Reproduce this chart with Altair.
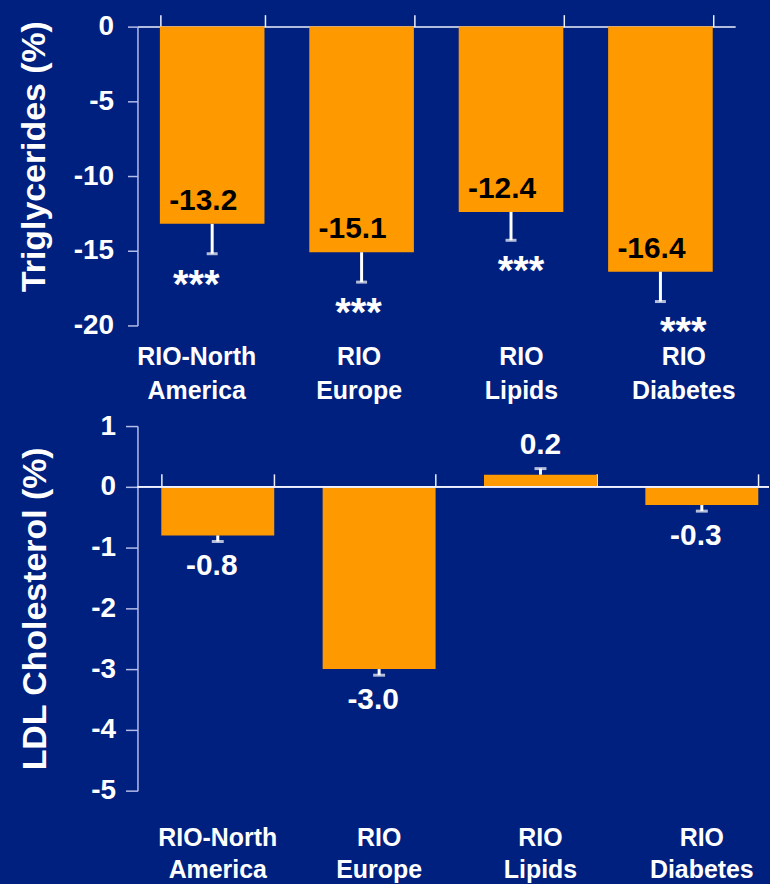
import altair as alt
import pandas as pd

# ---------------- data ----------------
categories = ["RIO-North America", "RIO Europe", "RIO Lipids", "RIO Diabetes"]
tg_change = [-13.2, -15.1, -12.4, -16.4]
tg_error = [2.0, 2.0, 1.9, 2.0]
tg_signif = ["***", "***", "***", "***"]
ldl_change = [-0.8, -3.0, 0.2, -0.3]
ldl_error = [0.1, 0.1, 0.1, 0.1]
tg_ticks = [0, -5, -10, -15, -20]
ldl_ticks = [1, 0, -1, -2, -3, -4, -5]

# ---------------- style ----------------
BG = "#00207f"
ORANGE = "#ff9900"
AXIS_COL = "#b4bce8"
LINE_COL = "#eef0ff"
FONT = "Liberation Sans"

tg = pd.DataFrame({"cat": categories, "value": tg_change, "err": tg_error, "sig": tg_signif})
tg["label"] = [f"{v:.1f}" for v in tg_change]
tg["end"] = tg["value"] - tg["err"]

ldl = pd.DataFrame({"cat": categories, "value": ldl_change, "err": ldl_error})
ldl["label"] = [f"{v:.1f}" for v in ldl_change]
ldl["end"] = [v + (e if v > 0 else -e) for v, e in zip(ldl_change, ldl_error)]

# ---------------- top panel: triglycerides ----------------
top_x = alt.Scale(domain=categories, paddingInner=0.3, paddingOuter=0.15)
top_y = alt.Scale(domain=[-20, 0], nice=False, zero=False)

top_yaxis = alt.Axis(
    values=tg_ticks, labelExpr="datum.value + ''", title="Triglycerides (%)",
    titleX=-86, titleY=130, titleFontSize=34, titleFont=FONT, titleFontWeight="bold",
    titleColor="white", labelFontSize=28, labelFont=FONT, labelFontWeight="bold",
    labelColor="white", labelPadding=14, tickSize=10, tickColor=AXIS_COL,
    domainColor=AXIS_COL, domainWidth=1.5, tickWidth=1.5, grid=False,
)

top_bars = alt.Chart(tg).mark_bar(color=ORANGE).encode(
    x=alt.X("cat:N", scale=top_x, sort=categories,
            axis=alt.Axis(orient="top", labels=False, title=None, tickBand="extent",
                          domainColor=LINE_COL, tickColor=LINE_COL, tickSize=12,
                          domainWidth=1.5, tickWidth=1.5, grid=False)),
    y=alt.Y("value:Q", scale=top_y, axis=top_yaxis),
)
top_err = alt.Chart(tg).mark_rule(color="white", strokeWidth=3).encode(
    x=alt.X("cat:N", scale=top_x, sort=categories, axis=None),
    y=alt.Y("value:Q", scale=top_y, axis=top_yaxis),
    y2="end:Q",
)
top_cap = alt.Chart(tg).mark_tick(color="white", size=11, thickness=3).encode(
    x=alt.X("cat:N", scale=top_x, sort=categories, axis=None),
    y=alt.Y("end:Q", scale=top_y, axis=top_yaxis),
)
top_lab = alt.Chart(tg).mark_text(
    color="black", font=FONT, fontWeight="bold", fontSize=30,
    baseline="alphabetic", dx=-9, dy=-14,
).encode(
    x=alt.X("cat:N", scale=top_x, sort=categories, axis=None),
    y=alt.Y("value:Q", scale=top_y, axis=top_yaxis),
    text="label:N",
)
top_star = alt.Chart(tg).mark_text(
    color="white", font=FONT, fontWeight="bold", fontSize=40,
    baseline="alphabetic", dy=44,
).encode(
    x=alt.X("cat:N", sort=categories,
            scale=alt.Scale(type="point", domain=categories, range=[59, 548], padding=0),
            axis=alt.Axis(orient="bottom", labelExpr="split(datum.label, ' ')",
                          domain=False, ticks=False, tickSize=0, labelPadding=19,
                          labelFontSize=25, labelLineHeight=34, labelFont=FONT,
                          labelFontWeight="bold", labelColor="white", labelAngle=0,
                          labelOverlap=False, labelBaseline="top", title=None, grid=False)),
    y=alt.Y("end:Q", scale=top_y, axis=top_yaxis),
    text="sig:N",
)

top = alt.layer(top_bars, top_err, top_cap, top_lab, top_star).resolve_scale(
    x="independent"
).properties(width=600, height=300)

# ---------------- bottom panel: LDL cholesterol ----------------
# step of 162 px with the last band running past the right edge of the view
bot_x = alt.Scale(domain=categories, paddingInner=0.3, paddingOuter=0.107, align=0.69)
bot_y = alt.Scale(domain=[-5, 1], nice=False, zero=False)

bot_yaxis = alt.Axis(
    values=ldl_ticks, labelExpr="datum.value + ''", title="LDL Cholesterol (%)",
    titleX=-85, titleFontSize=34, titleFont=FONT, titleFontWeight="bold",
    titleColor="white", labelFontSize=28, labelFont=FONT, labelFontWeight="bold",
    labelColor="white", labelPadding=10, tickSize=12, tickColor=AXIS_COL,
    domainColor=AXIS_COL, domainWidth=1.5, tickWidth=1.5, grid=False,
)

bot_bars = alt.Chart(ldl).mark_bar(color=ORANGE).encode(
    x=alt.X("cat:N", scale=bot_x, sort=categories,
            axis=alt.Axis(orient="bottom", labelExpr="split(datum.label, ' ')",
                          domain=False, ticks=False, tickSize=0, labelPadding=35,
                          labelFontSize=25, labelLineHeight=32, labelFont=FONT,
                          labelFontWeight="bold", labelColor="white", labelAngle=0,
                          labelOverlap=False, labelBaseline="top", title=None, grid=False)),
    y=alt.Y("value:Q", scale=bot_y, axis=bot_yaxis),
)
bot_zero = alt.Chart(ldl).mark_rule(color=LINE_COL, strokeWidth=1.5).encode(
    y=alt.datum(0, scale=bot_y, axis=bot_yaxis),
)
bot_err = alt.Chart(ldl).mark_rule(color="white", strokeWidth=3).encode(
    x=alt.X("cat:N", scale=bot_x, sort=categories,
            axis=alt.Axis(orient="top", offset=-61, labels=False, title=None,
                          tickBand="extent", tickExtra=False, domain=False,
                          tickColor=LINE_COL, tickSize=13, tickWidth=1.5, grid=False)),
    y=alt.Y("value:Q", scale=bot_y, axis=bot_yaxis),
    y2="end:Q",
)
bot_cap = alt.Chart(ldl).mark_tick(color="white", size=12, thickness=3).encode(
    x=alt.X("cat:N", scale=bot_x, sort=categories, axis=None),
    y=alt.Y("end:Q", scale=bot_y, axis=bot_yaxis),
)
bot_lab_neg = alt.Chart(ldl).transform_filter("datum.value < 0").mark_text(
    color="white", font=FONT, fontWeight="bold", fontSize=30,
    baseline="alphabetic", dx=-6, dy=40,
).encode(
    x=alt.X("cat:N", scale=bot_x, sort=categories, axis=None),
    y=alt.Y("value:Q", scale=bot_y, axis=bot_yaxis),
    text="label:N",
)
bot_lab_pos = alt.Chart(ldl).transform_filter("datum.value > 0").mark_text(
    color="white", font=FONT, fontWeight="bold", fontSize=30,
    baseline="alphabetic", dy=-21,
).encode(
    x=alt.X("cat:N", scale=bot_x, sort=categories, axis=None),
    y=alt.Y("value:Q", scale=bot_y, axis=bot_yaxis),
    text="label:N",
)

bottom = alt.layer(bot_bars, bot_zero, bot_err, bot_cap, bot_lab_neg, bot_lab_pos).resolve_axis(
    x="independent"
).properties(width=634, height=366)

chart = alt.vconcat(top, bottom, spacing=9).properties(
    background=BG,
    padding={"left": 17, "top": 11, "right": 0, "bottom": 0},
).configure_view(stroke=None)

chart.save("out.html", embed_options={"renderer": "svg", "actions": False})
